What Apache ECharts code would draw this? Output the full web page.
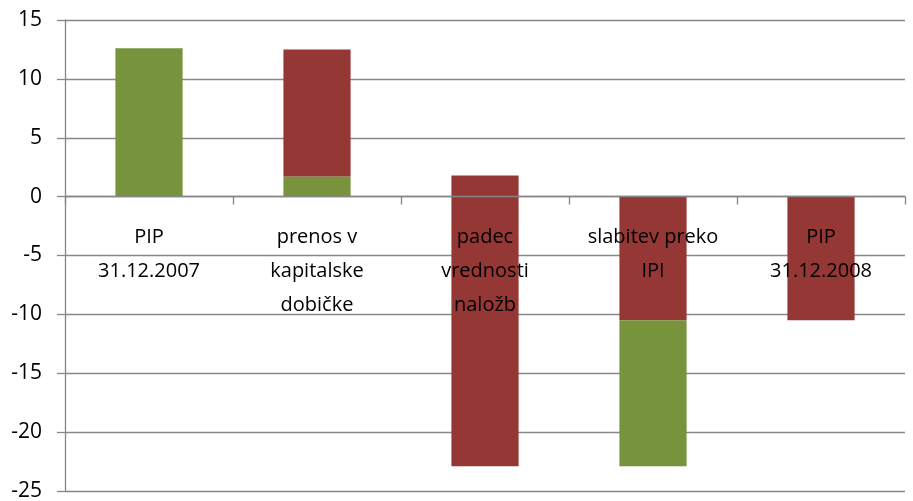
<!DOCTYPE html>
<html>
<head>
<meta charset="utf-8">
<script src="https://cdn.jsdelivr.net/npm/echarts@6/dist/echarts.min.js"></script>
<style>html,body{margin:0;padding:0;background:#fff}#c{width:913px;height:501px}</style>
</head>
<body>
<div id="c"></div>
<script>
const categories = ['PIP\n31.12.2007', 'prenos v\nkapitalske\ndobičke', 'padec\nvrednosti\nnaložb', 'slabitev preko\nIPI', 'PIP\n31.12.2008'];
// segments stacked from zero
const greenUp = [12.6, 1.7, '-', '-', '-'];
const redUp = ['-', 10.8, 1.8, '-', '-'];
const redDown = ['-', '-', -22.9, -10.5, -10.5];
const greenDown = ['-', '-', '-', -12.4, '-'];
const yTicks = { min: -25, max: 15, interval: 5 };

const GREEN = '#77933C', RED = '#953735', GRID = '#868686';
const font = '"Open Sans", Lato, sans-serif';
const chart = echarts.init(document.getElementById('c'), null, { renderer: 'canvas' });
const bar = (name, data, color) => ({
  name, type: 'bar', stack: 'w', data, barWidth: '40%',
  itemStyle: { color }, emphasis: { disabled: true }, animation: false
});
chart.setOption({
  animation: false,
  grid: { left: 65, right: 8, top: 20, bottom: 10, containLabel: false, outerBoundsMode: 'none' },
  xAxis: {
    type: 'category', data: categories, z: 5,
    axisLine: { onZero: true, lineStyle: { color: GRID, width: 1.3 } },
    axisTick: { show: true, length: 8, lineStyle: { color: GRID, width: 1.3 } },
    axisLabel: { color: '#000', fontFamily: font, fontSize: 20, lineHeight: 34, margin: -271, interval: 0 },
    splitLine: { show: false }
  },
  yAxis: {
    type: 'value', min: yTicks.min, max: yTicks.max, interval: yTicks.interval,
    axisLine: { show: true, lineStyle: { color: GRID, width: 1.3 } },
    axisTick: { show: true, length: 8, lineStyle: { color: GRID, width: 1.3 } },
    axisLabel: { color: '#000', fontFamily: font, fontSize: 21, margin: 23 },
    splitLine: { show: true, lineStyle: { color: GRID, width: 1.3 } }
  },
  series: [
    bar('greenUp', greenUp, GREEN),
    bar('redUp', redUp, RED),
    bar('redDown', redDown, RED),
    bar('greenDown', greenDown, GREEN)
  ]
});
</script>
</body>
</html>
